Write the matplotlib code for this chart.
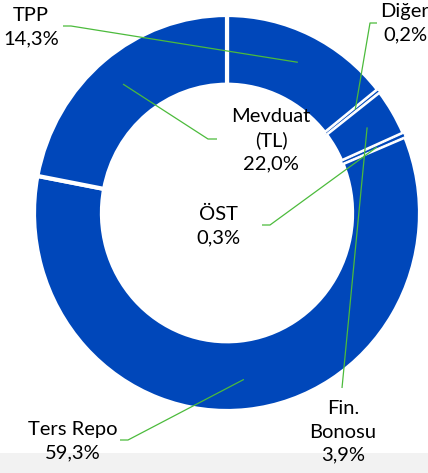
import matplotlib
matplotlib.use("Agg")
import matplotlib.pyplot as plt
import numpy as np
from matplotlib.patches import Rectangle

labels = ["TPP", "Diğer", "Fin.\nBonosu", "ÖST", "Ters Repo", "Mevduat\n(TL)"]
values = [14.3, 0.2, 3.9, 0.3, 59.3, 22.0]
pct_text = ["14,3%", "0,2%", "3,9%", "0,3%", "59,3%", "22,0%"]

BLUE = "#0047BA"
GREEN = "#4CBB3C"

W, H = 428, 473
fig = plt.figure(figsize=(W / 100, H / 100), dpi=100)
fig.patches.append(Rectangle((0, 0), 1, 20 / H, transform=fig.transFigure,
                             facecolor="#F2F2F2", edgecolor="none", zorder=0))

CX, CY, RX, RY = 227, 213, 193, 198
ax = fig.add_axes([(CX - RX) / W, (H - CY - RY) / H, 2 * RX / W, 2 * RY / H])
ax.set_zorder(2)
ax.patch.set_alpha(0)

wedges, _ = ax.pie(values, startangle=90, counterclock=False,
                   colors=[BLUE] * len(values),
                   wedgeprops=dict(width=0.352, edgecolor="white", linewidth=3))
for w, v in zip(wedges, values):
    if v < 1:
        w.set_linewidth(0.8)
        w.set_zorder(3)
ax.set_aspect("auto")
ax.set_xlim(-1, 1)
ax.set_ylim(-1, 1)
ax.axis("off")


def px(x, y):
    return ((x - CX) / RX, (CY - y) / RY)


# label layout (pixel positions of text block centres) and leader stubs
label_pos = [(31, 27), (405, 23), (343, 432), (218, 226), (73, 441), (271, 140)]
stubs = [((63, 26), (71, 26)), ((377, 23), (370, 23)), ((342, 388), (342, 388)),
         ((262, 225), (270, 225)), ((120, 440), (128, 440)), ((217, 139), (208, 139))]

cum = np.cumsum([0] + values[:-1])
total = sum(values)
r_end = 0.845
for i, (lab, pt) in enumerate(zip(labels, pct_text)):
    mid = (cum[i] + values[i] / 2) / total * 2 * np.pi
    ex, ey = r_end * np.sin(mid), r_end * np.cos(mid)
    (sx0, sy0), (sx1, sy1) = stubs[i]
    a = px(sx0, sy0)
    b = px(sx1, sy1)
    ax.plot([a[0], b[0], ex], [a[1], b[1], ey], color=GREEN, lw=0.9,
            zorder=5, clip_on=False, solid_capstyle="butt")
    tx, ty = px(*label_pos[i])
    ax.text(tx, ty, lab + "\n" + pt, ha="center", va="center", fontsize=14.5,
            family=["Lato", "DejaVu Sans"], color="black", linespacing=1.45,
            zorder=6, clip_on=False)

fig.savefig("out.png", dpi=100)
